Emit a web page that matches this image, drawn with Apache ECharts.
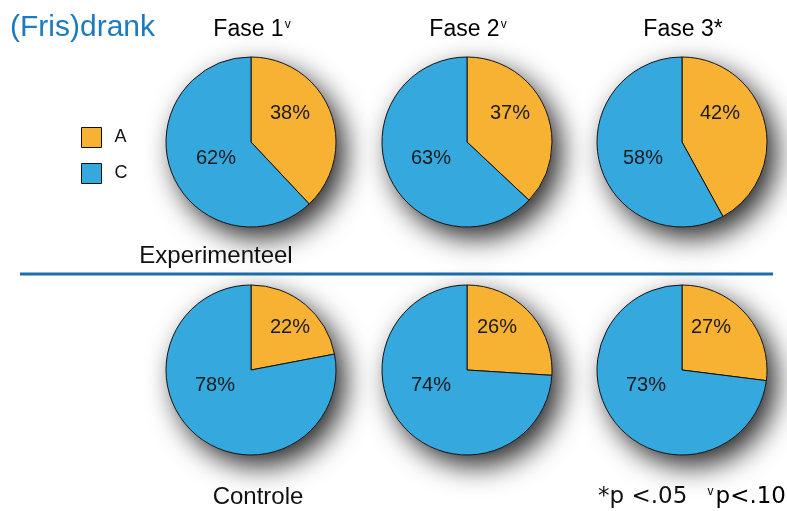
<!DOCTYPE html>
<html><head><meta charset="utf-8">
<script src="https://cdn.jsdelivr.net/npm/echarts@6/dist/echarts.min.js"></script>
<style>html,body{margin:0;padding:0;background:#fff}#c{width:787px;height:511px}</style>
</head><body><div id="c"></div>
<script>
const categories = ['A', 'C'];
const phases = ['Fase 1', 'Fase 2', 'Fase 3'];
const phaseMarks = ['v', 'v', '*'];
const experimenteel = [[38, 62], [37, 63], [42, 58]];
const controle = [[22, 78], [26, 74], [27, 73]];
const colors = ['#F7B234', '#35A8DE'];

// layout only
const xs = [251, 467, 682];
const R = 85;
const rows = [
  { y: 142, data: experimenteel, labelPos: [[[39, -29], [-35, 16]], [[43, -29], [-36, 16]], [[38, -29], [-39, 16]]] },
  { y: 370, data: controle, labelPos: [[[39, -43], [-36, 15]], [[30, -43], [-36, 15]], [[29, -43], [-36, 15]]] }
];
const font = '"Liberation Sans", Arial, sans-serif';
const font2 = '"DejaVu Sans", sans-serif';

const series = [];
rows.forEach(row => {
  row.data.forEach((vals, i) => {
    const cx = xs[i], cy = row.y, lp = row.labelPos[i];
    series.push({
      type: 'pie', silent: true, center: [cx, cy], radius: R,
      label: { show: false }, labelLine: { show: false }, legendHoverLink: false,
      data: [{ value: 1, name: '_bg', itemStyle: { color: '#fff', shadowBlur: 28, shadowOffsetX: 9, shadowOffsetY: 11, shadowColor: 'rgba(0,0,0,0.85)' } }],
      emphasis: { disabled: true }, tooltip: { show: false }
    });
    series.push({
      type: 'pie', center: [cx, cy], radius: R, startAngle: 90, clockwise: true,
      silent: true,
      itemStyle: { borderColor: '#111', borderWidth: 1 },
      label: { show: true, position: 'inside', formatter: '{c}%', fontFamily: font, fontSize: 20, color: '#1a1a1a', align: 'center' },
      labelLine: { show: false },
      labelLayout: p => ({ x: cx + lp[p.dataIndex][0], y: cy + lp[p.dataIndex][1] }),
      data: vals.map((v, k) => ({ value: v, name: categories[k], itemStyle: { color: colors[k] } }))
    });
  });
});

const graphics = [
  { type: 'text', x: 10, y: 28, style: { text: '(Fris)drank', font: '30px ' + font, fill: '#1B7BC0', textVerticalAlign: 'middle' } },
  { type: 'line', shape: { x1: 20, y1: 274, x2: 773, y2: 274 }, style: { stroke: '#1A6FB0', lineWidth: 3 } },
  { type: 'text', x: 216, y: 256, style: { text: 'Experimenteel', font: '24px ' + font, fill: '#111', textAlign: 'center', textVerticalAlign: 'middle' } },
  { type: 'text', x: 258, y: 497, style: { text: 'Controle', font: '24px ' + font, fill: '#111', textAlign: 'center', textVerticalAlign: 'middle' } },
  { type: 'text', x: 598, y: 497, style: { text: '*p <.05', font: '23px ' + font2, fill: '#111', textAlign: 'left', textVerticalAlign: 'middle' } },
  { type: 'text', x: 786, y: 497, style: { text: '{s|v}{a|p<.10}', textAlign: 'right', textVerticalAlign: 'middle',
      rich: { a: { fontFamily: font2, fontSize: 23, color: '#111' }, s: { fontFamily: font, fontSize: 12, color: '#111', verticalAlign: 'top', padding: [0, 2, 0, 0] } } } }
];
phases.forEach((p, i) => {
  graphics.push({ type: 'text', x: xs[i] + 1, y: 30, style: {
    text: '{a|' + p + '}' + (phaseMarks[i] === '*' ? '{a|*}' : '{s|' + phaseMarks[i] + '}'),
    textAlign: 'center', textVerticalAlign: 'middle',
    rich: { a: { fontFamily: font, fontSize: 23, color: '#111' }, s: { fontFamily: font, fontSize: 12, color: '#111', verticalAlign: 'top', padding: [0, 0, 0, 1] } }
  } });
});

const chart = echarts.init(document.getElementById('c'));
chart.setOption({
  animation: false,
  legend: {
    data: categories, orient: 'vertical', left: 81, top: 127, padding: 0, itemWidth: 20, itemHeight: 20, itemGap: 15,
    icon: 'rect', selectedMode: false,
    itemStyle: { borderColor: '#111', borderWidth: 1 },
    textStyle: { fontFamily: font, fontSize: 18, color: '#111', padding: [0, 0, 0, 8] }
  },
  series: series,
  graphic: graphics
});
</script></body></html>
